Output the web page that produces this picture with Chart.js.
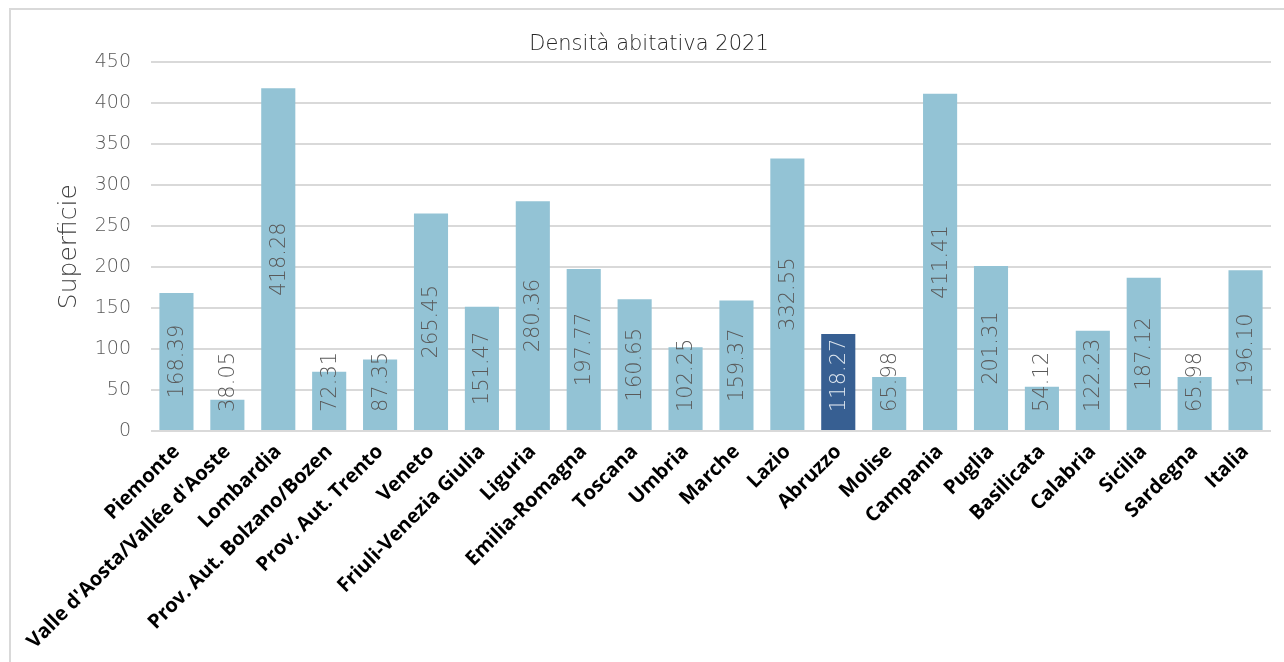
<!DOCTYPE html>
<html>
<head>
<meta charset="utf-8">
<script src="https://cdn.jsdelivr.net/npm/chart.js@4.4.0/dist/chart.umd.min.js"></script>
<style>
  html, body { margin: 0; padding: 0; background: #fff; overflow: hidden; }
  #wrap { position: relative; width: 1284px; height: 662px; }
  #frame { position: absolute; left: 9px; top: 8px; width: 1300px; height: 700px;
           border: 2px solid #d9d9d9; pointer-events: none; box-sizing: border-box; }
</style>
</head>
<body>
<div id="wrap">
  <canvas id="chart" width="1284" height="662"></canvas>
  <div id="frame"></div>
</div>
<script>
// Data
const regions = [
  'Piemonte', "Valle d'Aosta/Vallée d'Aoste", 'Lombardia', 'Prov. Aut. Bolzano/Bozen',
  'Prov. Aut. Trento', 'Veneto', 'Friuli-Venezia Giulia', 'Liguria', 'Emilia-Romagna',
  'Toscana', 'Umbria', 'Marche', 'Lazio', 'Abruzzo', 'Molise', 'Campania', 'Puglia',
  'Basilicata', 'Calabria', 'Sicilia', 'Sardegna', 'Italia'
];
const density = [
  168.39, 38.05, 418.28, 72.31, 87.35, 265.45, 151.47, 280.36, 197.77, 160.65, 102.25,
  159.37, 332.55, 118.27, 65.98, 411.41, 201.31, 54.12, 122.23, 187.12, 65.98, 196.10
];
const highlighted = ['Abruzzo'];
const yTicks = [0, 50, 100, 150, 200, 250, 300, 350, 400, 450];

const BAR = '#93c3d5';
const BAR_HL = '#375f92';
const LIGHT = "'DejaVu Sans', sans-serif";

// Value labels, rotated, centered in the bar but kept off the baseline
const valueLabels = {
  id: 'valueLabels',
  afterDatasetsDraw(chart) {
    const ctx = chart.ctx;
    const meta = chart.getDatasetMeta(0);
    ctx.save();
    ctx.font = '200 21px ' + LIGHT;
    meta.data.forEach((bar, i) => {
      const text = density[i].toFixed(2);
      const w = ctx.measureText(text).width;
      const mid = (bar.y + bar.base) / 2;
      const start = Math.min(mid + w / 2, bar.base - 18);
      ctx.save();
      ctx.translate(bar.x, start);
      ctx.rotate(-Math.PI / 2);
      ctx.textAlign = 'left';
      ctx.textBaseline = 'middle';
      ctx.fillStyle = highlighted.includes(regions[i]) ? '#dfe7ef' : '#595959';
      ctx.fillText(text, 0, 1);
      ctx.restore();
    });
    ctx.restore();
  }
};

const ctx = document.getElementById('chart').getContext('2d');
new Chart(ctx, {
  type: 'bar',
  data: {
    labels: regions,
    datasets: [{
      data: density,
      backgroundColor: regions.map(r => highlighted.includes(r) ? BAR_HL : BAR),
      barPercentage: 0.67,
      categoryPercentage: 1
    }]
  },
  options: {
    responsive: false,
    animation: false,
    layout: { padding: { left: 27, right: 13, top: 0, bottom: 0 } },
    plugins: {
      legend: { display: false },
      tooltip: { enabled: false },
      title: {
        display: true,
        text: 'Densità abitativa 2021',
        color: '#262626',
        font: { family: LIGHT, size: 21, weight: '200' },
        padding: { top: 32, bottom: 5 }
      }
    },
    scales: {
      x: {
        grid: { display: false },
        border: { display: false },
        ticks: {
          autoSkip: false,
          minRotation: 45,
          maxRotation: 45,
          padding: 1,
          color: '#000',
          font: { family: "'Open Sans', sans-serif", size: 20, weight: 'bold' }
        },
        afterFit(scale) { scale.height = 231; }
      },
      y: {
        min: 0,
        max: 450,
        afterBuildTicks(scale) { scale.ticks = yTicks.map(v => ({ value: v })); },
        grid: { color: '#d9d9d9', lineWidth: 2, drawTicks: false },
        border: { display: false },
        ticks: {
          padding: 20,
          color: '#595959',
          font: { family: LIGHT, size: 19, weight: '200' }
        },
        title: {
          display: true,
          text: 'Superficie',
          color: '#404040',
          font: { family: LIGHT, size: 25, weight: '200' },
          padding: { top: 27, bottom: 0 }
        },
        afterFit(scale) { scale.width = 124; }
      }
    }
  },
  plugins: [valueLabels]
});
</script>
</body>
</html>
